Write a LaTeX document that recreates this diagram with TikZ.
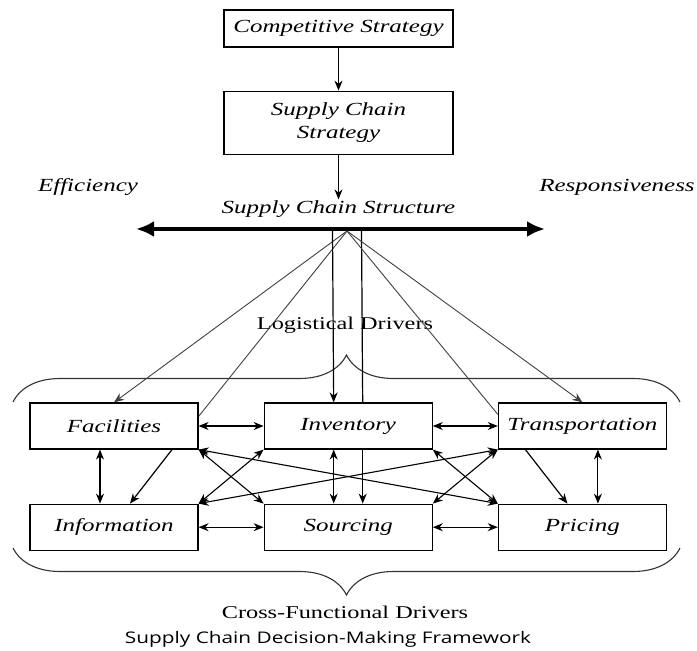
\documentclass[tikz,border=0pt]{standalone}
\usepackage{fontspec}
\setmainfont{Liberation Serif}[FakeStretch=1.35]
\newfontfamily\captionfont{Open Sans}[FakeStretch=1.3]
\usetikzlibrary{positioning,arrows.meta,decorations.pathreplacing}

\tikzset{
  driver/.style={draw, line width=1.2pt, minimum width=168pt, minimum height=46pt, inner sep=0pt, font=\fontsize{18.5}{22}\selectfont\itshape},
  stratbox/.style={draw, line width=1.2pt, minimum width=229pt, inner sep=0pt, align=center, font=\fontsize{18.5}{23}\selectfont\itshape},
  label/.style={inner sep=1pt, font=\fontsize{18.5}{22}\selectfont\itshape},
  link/.style={line width=1.2pt, -{Stealth[length=10pt,width=8pt]}},
  twoway/.style={line width=1.1pt, {Stealth[length=10pt,width=8pt]}-{Stealth[length=10pt,width=8pt]}},
  fan/.style={line width=0.9pt, black!75},
  bigarrow/.style={line width=4.5pt, {Latex[length=18pt,width=16pt]}-{Latex[length=18pt,width=16pt]}},
  curly/.style={decorate, decoration={brace, amplitude=47pt}, line width=1.1pt, black!80},
}

\begin{document}
\begin{tikzpicture}[x=1pt, y=-1pt]
				\useasboundingbox (0,0) rectangle (697,651);
				
				% Strategy boxes
				\node[stratbox, minimum height=37pt] (comp) at (338.5,28.5) {Competitive Strategy};
				\node[stratbox, minimum height=63pt, below=43pt of comp] (scs) {Supply Chain\\Strategy};
				\node[label] (struct) at (338.5,209) {Supply Chain Structure};
				\draw[link] (comp) -- (scs);
				\draw[link] (scs) -- (struct);
				
				% Efficiency / responsiveness axis
				\node[label] (eff) at (88,187) {Efficiency};
				\node[label] (resp) at (617,187) {Responsiveness};
				\coordinate (west) at (136,229);
				\coordinate (east) at (545,229);
				\coordinate (hub) at (347,231);
				\draw[bigarrow] (west) -- (east);
				
				% Driver boxes
				\node[driver] (fac) at (114,426) {Facilities};
				\node[driver, right=65pt of fac] (inv) {Inventory};
				\node[driver, right=65pt of inv] (trans) {Transportation};
				\node[driver, below=54pt of fac] (info) {Information};
				\node[driver, below=54pt of inv] (src) {Sourcing};
				\node[driver, below=54pt of trans] (pri) {Pricing};
				
				% Braces and their labels
				\node[font=\fontsize{18}{22}\selectfont] (logi) at (345,325) {Logistical Drivers};
				\draw[curly] (13,402) -- (680,402);
				\draw[curly] (680,548) -- (13,548);
				\node[font=\fontsize{18}{22}\selectfont] (cross) at (345,612) {Cross-Functional Drivers};
				\node[font=\captionfont\fontsize{16}{18}\selectfont] (cap) at (328,639) {Supply Chain Decision-Making Framework};
				
				% From the structure down to the drivers
				\draw[fan, link, line width=0.9pt] (hub) -- (fac.north);
				\draw[fan] (hub) -- ([yshift=-14pt]fac.north east);
				\draw[link] ([xshift=-14.5pt]hub) -- ([xshift=-14.5pt]inv.north);
				\draw[line width=1.2pt] ([xshift=14.5pt]hub) -- ([xshift=14.5pt]inv.north);
				\draw[link] ([xshift=14.5pt]inv.south) -- ([xshift=14.5pt]src.north);
				\draw[fan] (hub) -- ([yshift=-12pt]trans.north west);
				\draw[fan, link, line width=0.9pt] (hub) -- (trans.north);
				
				% Horizontal links
				\draw[twoway] (fac) -- (inv);
				\draw[twoway] (inv) -- (trans);
				\draw[twoway] (info) -- (src);
				\draw[twoway] (src) -- (pri);
				
				% Vertical links
				\draw[twoway] ([xshift=-14pt]fac.south) -- ([xshift=-14pt]info.north);
				\draw[twoway] ([xshift=-14.5pt]inv.south) -- ([xshift=-14.5pt]src.north);
				\draw[twoway] ([xshift=15.5pt]trans.south) -- ([xshift=15.5pt]pri.north);
				\draw[link] ([xshift=58pt]fac.south) -- ([xshift=16pt]info.north);
				\draw[link] ([xshift=-57pt]trans.south) -- ([xshift=-15pt]pri.north);
				
				% Crossing links
				\draw[twoway] (fac.south east) -- (src.north west);
				\draw[twoway] (fac.south east) -- (pri.north west);
				\draw[twoway] (info.north east) -- (inv.south west);
				\draw[twoway] (info.north east) -- (trans.south west);
				\draw[twoway] (inv.south east) -- (pri.north west);
				\draw[twoway] (src.north east) -- (trans.south west);
			\end{tikzpicture}
\end{document}
